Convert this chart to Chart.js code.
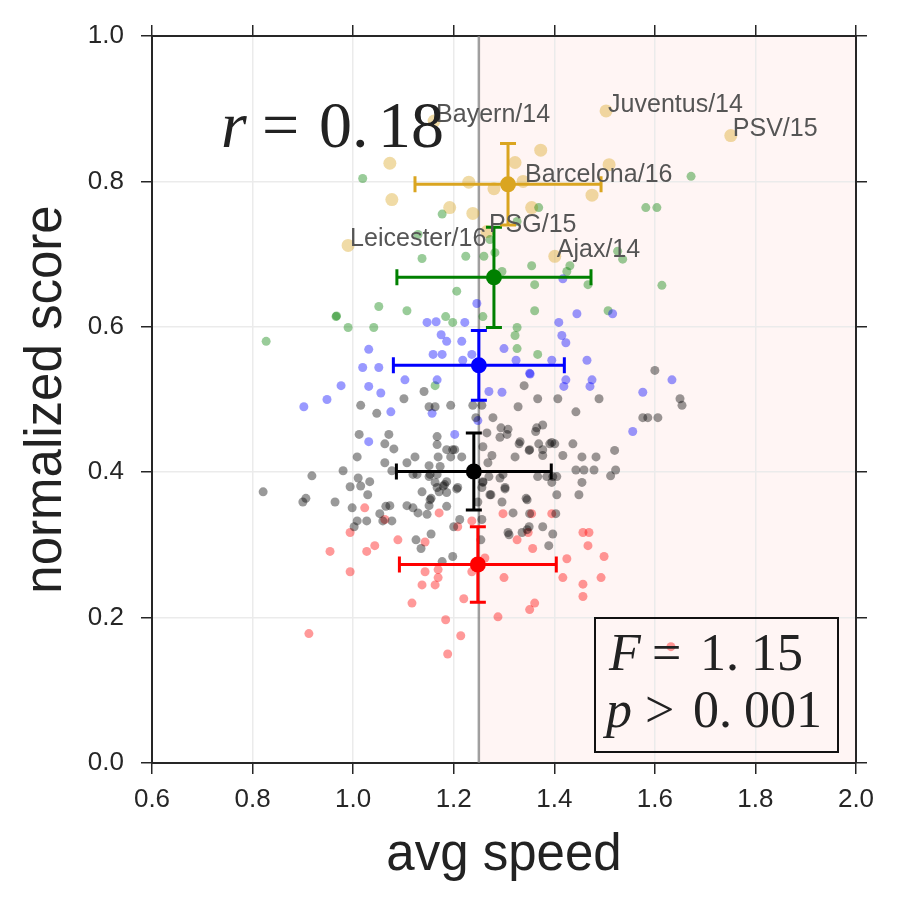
<!DOCTYPE html>
<html>
<head>
<meta charset="utf-8">
<script src="https://cdn.jsdelivr.net/npm/chart.js@4.4.1/dist/chart.umd.min.js"></script>
<style>
  html, body { margin: 0; padding: 0; background: #ffffff; }
  #wrap { width: 900px; height: 900px; }
</style>
</head>
<body>
<div id="wrap"><canvas id="speedChart" width="900" height="900"></canvas></div>
<script>
// --- data (avg speed, normalized score) ---
const xTicks = [0.6, 0.8, 1.0, 1.2, 1.4, 1.6, 1.8, 2.0];
const yTicks = [0.0, 0.2, 0.4, 0.6, 0.8, 1.0];
const speedCut = 1.25;

const blackPts = [
  [1.015,0.492],[1.047,0.481],[1.101,0.501],[1.141,0.511],[1.151,0.490],[1.163,0.490],[1.194,0.492],
  [1.238,0.492],[1.256,0.492],[1.244,0.475],[1.278,0.475],[1.012,0.452],[1.071,0.452],[1.063,0.439],
  [1.081,0.432],[1.008,0.421],[1.123,0.421],[1.063,0.413],[1.107,0.413],[1.167,0.449],[1.167,0.438],
  [1.186,0.431],[1.198,0.431],[1.194,0.421],[1.216,0.421],[1.169,0.421],[1.151,0.409],[1.077,0.402],
  [0.980,0.402],[0.918,0.395],[1.010,0.392],[1.033,0.387],[0.994,0.380],[1.127,0.397],[1.182,0.383],
  [1.276,0.423],[1.258,0.435],[0.821,0.373],[0.900,0.359],[0.906,0.364],[0.964,0.359],[0.998,0.351],
  [1.015,0.381],[1.029,0.369],[1.053,0.343],[1.065,0.353],[1.073,0.354],[1.008,0.333],[1.002,0.325],
  [1.027,0.333],[1.059,0.333],[1.077,0.333],[1.107,0.354],[1.119,0.351],[1.129,0.344],[1.137,0.373],
  [1.155,0.364],[1.151,0.354],[1.171,0.373],[1.186,0.372],[1.163,0.386],[1.179,0.381],[1.186,0.353],
  [1.206,0.377],[1.212,0.335],[1.200,0.325],[1.155,0.315],[1.125,0.307],[1.135,0.295],[1.198,0.284],
  [1.177,0.277],[1.151,0.394],[1.167,0.397],[1.256,0.335],[1.254,0.307],[1.258,0.386],[1.272,0.369],
  [1.248,0.359],[1.119,0.397],[1.202,0.431],[1.173,0.408],[1.153,0.397],[1.167,0.379],[1.186,0.387],
  [1.208,0.379],[1.153,0.362],[1.147,0.342],[1.266,0.454],[1.292,0.448],[1.308,0.459],[1.328,0.490],
  [1.365,0.461],[1.377,0.465],[1.351,0.431],[1.332,0.442],[1.395,0.441],[1.377,0.431],[1.268,0.413],
  [1.298,0.397],[1.292,0.392],[1.258,0.387],[1.256,0.379],[1.302,0.379],[1.346,0.362],[1.367,0.394],
  [1.385,0.394],[1.318,0.344],[1.351,0.343],[1.403,0.343],[1.397,0.394],[1.377,0.325],[1.346,0.321],
  [1.308,0.317],[1.600,0.540],[1.650,0.501],[1.654,0.492],[1.576,0.475],[1.586,0.475],[1.606,0.475],
  [1.340,0.519],[1.367,0.501],[1.407,0.501],[1.489,0.501],[1.443,0.483],[1.363,0.456],[1.294,0.461],
  [1.306,0.452],[1.330,0.439],[1.350,0.430],[1.369,0.439],[1.377,0.423],[1.391,0.439],[1.401,0.439],
  [1.437,0.439],[1.417,0.423],[1.455,0.421],[1.483,0.421],[1.520,0.430],[1.322,0.421],[1.443,0.403],
  [1.459,0.403],[1.479,0.403],[1.522,0.403],[1.512,0.395],[1.455,0.386],[1.405,0.394],[1.270,0.394],
  [1.302,0.377],[1.296,0.359],[1.274,0.369],[1.344,0.364],[1.405,0.369],[1.449,0.369],[1.395,0.386],
  [1.350,0.325],[1.336,0.317],[1.310,0.314],[1.397,0.315],[1.389,0.299]
];

const redPts = [
  [1.023,0.351],[1.063,0.335],[0.994,0.317],[0.954,0.291],[1.027,0.291],[1.043,0.299],[1.089,0.307],
  [1.143,0.304],[1.171,0.344],[1.208,0.325],[1.236,0.333],[0.994,0.263],[1.143,0.263],[1.169,0.266],
  [1.169,0.255],[1.137,0.245],[1.163,0.245],[1.117,0.220],[1.220,0.226],[1.184,0.197],[1.214,0.175],
  [1.188,0.150],[0.912,0.178],[1.262,0.282],[1.236,0.263],[1.288,0.201],[1.298,0.343],[1.355,0.343],
  [1.395,0.343],[1.326,0.307],[1.348,0.317],[1.357,0.295],[1.457,0.317],[1.469,0.317],[1.467,0.299],
  [1.499,0.284],[1.425,0.281],[1.417,0.255],[1.493,0.255],[1.300,0.255],[1.457,0.246],[1.457,0.229],
  [1.361,0.220],[1.351,0.211],[1.632,0.160]
];

const bluePts = [
  [1.246,0.632],[1.147,0.606],[1.165,0.607],[1.222,0.606],[1.175,0.589],[1.186,0.580],[1.216,0.580],
  [1.159,0.562],[1.177,0.562],[1.218,0.554],[1.236,0.562],[1.031,0.569],[1.019,0.544],[1.051,0.544],
  [0.976,0.519],[0.948,0.500],[0.902,0.490],[1.031,0.518],[1.055,0.509],[1.075,0.483],[1.103,0.527],
  [1.167,0.527],[1.157,0.481],[1.031,0.442],[1.202,0.452],[1.248,0.471],[1.270,0.511],[1.445,0.618],
  [1.516,0.618],[1.409,0.606],[1.415,0.588],[1.423,0.578],[1.300,0.570],[1.324,0.554],[1.395,0.554],
  [1.465,0.554],[1.351,0.536],[1.352,0.535],[1.423,0.527],[1.419,0.518],[1.475,0.527],[1.471,0.518],
  [1.296,0.510],[1.576,0.510],[1.634,0.527],[1.556,0.456],[1.417,0.666]
];

const greenPts = [
  [1.019,0.804],[1.177,0.755],[1.129,0.727],[1.137,0.694],[1.224,0.697],[1.260,0.697],[1.206,0.649],
  [1.672,0.807],[1.582,0.764],[1.604,0.764],[1.369,0.764],[1.326,0.745],[1.282,0.702],[1.355,0.684],
  [1.431,0.684],[1.425,0.676],[1.526,0.704],[1.536,0.693],[1.361,0.658],[1.467,0.658],[1.614,0.657],
  [1.296,0.676],[1.272,0.720],[1.051,0.628],[1.107,0.622],[0.966,0.614],[0.967,0.615],[0.990,0.599],
  [1.041,0.599],[1.184,0.614],[1.198,0.606],[0.827,0.580],[1.258,0.614],[1.163,0.519],[1.361,0.622],
  [1.507,0.622],[1.326,0.599],[1.322,0.588],[1.326,0.570],[1.367,0.562]
];

const goldPts = [
  [1.161,0.883],[1.503,0.897],[1.751,0.863],[1.073,0.825],[1.077,0.775],[1.192,0.764],[1.238,0.756],
  [1.230,0.799],[1.280,0.790],[0.990,0.712],[1.266,0.731],[1.373,0.843],[1.322,0.826],[1.509,0.823],
  [1.338,0.800],[1.475,0.781],[1.355,0.764],[1.401,0.697]
];

// group means and standard deviations
const meanX = [1.240, 1.248, 1.250, 1.280, 1.308];
const meanY = [0.401, 0.273, 0.547, 0.668, 0.796];
const errX  = [0.154, 0.156, 0.170, 0.193, 0.185];
const errY  = [0.053, 0.052, 0.048, 0.069, 0.056];
const groupColors = ['#000000', '#ff0000', '#0000ff', '#008000', '#daa520'];

// labelled clubs
const teamNames = ['Bayern/14', 'Juventus/14', 'PSV/15', 'Barcelona/16', 'Leicester/16', 'PSG/15', 'Ajax/14'];
const teamX = [1.161, 1.503, 1.751, 1.338, 0.990, 1.266, 1.401];
const teamY = [0.883, 0.897, 0.863, 0.800, 0.712, 0.731, 0.697];

const toPoints = arr => arr.map(p => ({ x: p[0], y: p[1] }));

const AXIS = '#262626';
const SANS = "'Liberation Sans', Arial, sans-serif";
const SERIF = "'Liberation Serif', 'Times New Roman', serif";

// background band, cut line, error bars, labels and stats text
const decorPlugin = {
  id: 'decor',
  beforeDraw(chart) {
    const { ctx, chartArea: a, scales: { x } } = chart;
    const x0 = x.getPixelForValue(speedCut);
    ctx.save();
    ctx.fillStyle = 'rgba(250, 128, 114, 0.08)';
    ctx.fillRect(x0, a.top, a.right - x0, a.bottom - a.top);
    ctx.restore();
  },
  beforeDatasetsDraw(chart) {
    const { ctx, chartArea: a, scales: { x } } = chart;
    const x0 = x.getPixelForValue(speedCut);
    ctx.save();
    ctx.strokeStyle = 'rgba(128, 128, 128, 0.75)';
    ctx.lineWidth = 2.5;
    ctx.beginPath();
    ctx.moveTo(x0, a.top);
    ctx.lineTo(x0, a.bottom);
    ctx.stroke();
    ctx.restore();
  },
  afterDatasetsDraw(chart) {
    const { ctx, scales: { x, y } } = chart;
    ctx.save();
    ctx.lineWidth = 3;
    const cap = 8;
    for (let i = 0; i < meanX.length; i++) {
      const cx = x.getPixelForValue(meanX[i]);
      const cy = y.getPixelForValue(meanY[i]);
      const xl = x.getPixelForValue(meanX[i] - errX[i]);
      const xr = x.getPixelForValue(meanX[i] + errX[i]);
      const yt = y.getPixelForValue(meanY[i] + errY[i]);
      const yb = y.getPixelForValue(meanY[i] - errY[i]);
      ctx.strokeStyle = groupColors[i];
      ctx.fillStyle = groupColors[i];
      ctx.beginPath();
      ctx.moveTo(xl, cy); ctx.lineTo(xr, cy);
      ctx.moveTo(cx, yt); ctx.lineTo(cx, yb);
      ctx.moveTo(xl, cy - cap); ctx.lineTo(xl, cy + cap);
      ctx.moveTo(xr, cy - cap); ctx.lineTo(xr, cy + cap);
      ctx.moveTo(cx - cap, yt); ctx.lineTo(cx + cap, yt);
      ctx.moveTo(cx - cap, yb); ctx.lineTo(cx + cap, yb);
      ctx.stroke();
      ctx.beginPath();
      ctx.arc(cx, cy, 8, 0, Math.PI * 2);
      ctx.fill();
    }

    // club labels
    ctx.font = '25px ' + SANS;
    ctx.fillStyle = '#555555';
    ctx.textAlign = 'left';
    ctx.textBaseline = 'middle';
    teamNames.forEach((name, i) => {
      ctx.fillText(name, x.getPixelForValue(teamX[i]) + 2, y.getPixelForValue(teamY[i]) - 6);
    });
    ctx.restore();
  },
  afterDraw(chart) {
    const { ctx } = chart;
    ctx.save();
    ctx.fillStyle = '#222222';
    ctx.textBaseline = 'alphabetic';
    ctx.textAlign = 'left';

    // r = 0. 18
    ctx.font = 'italic 66px ' + SERIF;
    ctx.fillText('r', 221, 147);
    ctx.font = '66px ' + SERIF;
    ctx.fillText('=', 262, 147);
    ctx.fillText('0.', 319, 147);
    ctx.fillText('18', 378, 147);

    // stats box
    ctx.strokeStyle = '#111111';
    ctx.lineWidth = 2;
    ctx.strokeRect(595, 618, 243, 134);
    ctx.font = 'italic 52px ' + SERIF;
    ctx.fillText('F', 609, 670);
    ctx.fillText('p', 606, 727);
    ctx.font = '52px ' + SERIF;
    ctx.fillText('=', 652, 670);
    ctx.fillText('1.', 700, 670);
    ctx.fillText('15', 751, 670);
    ctx.fillText('>', 645, 727);
    ctx.fillText('0.', 693, 727);
    ctx.fillText('001', 744, 727);
    ctx.restore();
  }
};

const scatterSet = (pts, color, r) => ({
  data: toPoints(pts),
  backgroundColor: color,
  borderWidth: 0,
  pointRadius: r,
  pointHoverRadius: r
});

const gridOpts = {
  color: '#ebebeb',
  lineWidth: 1.5,
  tickColor: AXIS,
  tickLength: 11,
  tickWidth: 1.5
};

new Chart(document.getElementById('speedChart'), {
  type: 'scatter',
  data: {
    datasets: [
      scatterSet(blackPts, 'rgba(0, 0, 0, 0.4)', 4.5),
      scatterSet(redPts, 'rgba(255, 0, 0, 0.4)', 4.5),
      scatterSet(bluePts, 'rgba(0, 0, 255, 0.4)', 4.5),
      scatterSet(greenPts, 'rgba(0, 128, 0, 0.4)', 4.5),
      scatterSet(goldPts, 'rgba(218, 165, 32, 0.4)', 6.5)
    ]
  },
  options: {
    responsive: false,
    animation: false,
    events: [],
    layout: { padding: 0 },
    plugins: { legend: { display: false }, tooltip: { enabled: false } },
    scales: {
      x: {
        type: 'linear',
        position: 'bottom',
        min: 0.6,
        max: 2.0,
        afterBuildTicks: s => { s.ticks = xTicks.map(v => ({ value: v })); },
        afterFit: s => { s.height = 137; },
        grid: gridOpts,
        border: { color: AXIS, width: 2 },
        ticks: {
          color: AXIS,
          font: { family: SANS, size: 26 },
          padding: 10,
          callback: v => Number(v).toFixed(1)
        },
        title: {
          display: true,
          text: 'avg speed',
          color: '#222222',
          font: { family: SANS, size: 51 },
          padding: { top: 0, bottom: 13 }
        }
      },
      xTop: {
        type: 'linear',
        position: 'top',
        min: 0.6,
        max: 2.0,
        afterBuildTicks: s => { s.ticks = xTicks.map(v => ({ value: v })); },
        afterFit: s => { s.height = 36; },
        grid: Object.assign({}, gridOpts, { drawOnChartArea: false }),
        border: { color: AXIS, width: 2 },
        ticks: { display: false }
      },
      y: {
        type: 'linear',
        position: 'left',
        min: 0,
        max: 1.0,
        afterBuildTicks: s => { s.ticks = yTicks.map(v => ({ value: v })); },
        afterFit: s => { s.width = 152; },
        grid: gridOpts,
        border: { color: AXIS, width: 2 },
        ticks: {
          color: AXIS,
          font: { family: SANS, size: 26 },
          padding: 17,
          callback: v => Number(v).toFixed(1)
        },
        title: {
          display: true,
          text: 'normalized score',
          color: '#222222',
          font: { family: SANS, size: 51 },
          padding: { top: 16, bottom: 0 }
        }
      },
      yRight: {
        type: 'linear',
        position: 'right',
        min: 0,
        max: 1.0,
        afterBuildTicks: s => { s.ticks = yTicks.map(v => ({ value: v })); },
        afterFit: s => { s.width = 44; },
        grid: Object.assign({}, gridOpts, { drawOnChartArea: false }),
        border: { color: AXIS, width: 2 },
        ticks: { display: false }
      }
    }
  },
  plugins: [decorPlugin]
});
</script>
</body>
</html>
